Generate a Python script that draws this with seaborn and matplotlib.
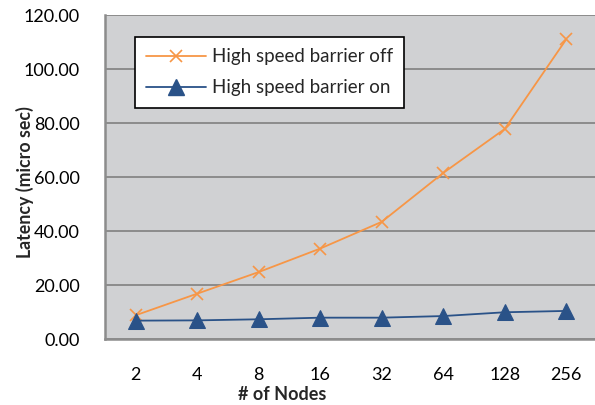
import matplotlib
matplotlib.use("Agg")
import matplotlib.pyplot as plt
import seaborn as sns
import pandas as pd
import numpy as np
from matplotlib.lines import Line2D

nodes = ["2", "4", "8", "16", "32", "64", "128", "256"]
barrier_off = [8.8, 16.8, 24.8, 33.5, 43.4, 61.5, 77.8, 111.0]
barrier_on = [6.8, 6.9, 7.3, 7.9, 7.9, 8.5, 9.9, 10.4]
series_names = ["High speed barrier off", "High speed barrier on"]

sns.set_theme(style="white")
plt.rcParams['font.family'] = ['Lato', 'DejaVu Sans']

df_off = pd.DataFrame({"nodes": nodes, "latency": barrier_off})
df_on = pd.DataFrame({"nodes": nodes, "latency": barrier_on})

c_off = "#f79646"
c_on = "#2a5288"

fig = plt.figure(figsize=(5.95, 4.05), dpi=100)
ax = fig.add_axes([105/595, 66/405, 492/595, 324/405])
ax.set_facecolor("#d0d1d3")

sns.lineplot(data=df_off, x="nodes", y="latency", color=c_off, marker="x",
             markersize=9, markeredgewidth=1.2, markeredgecolor=c_off,
             linewidth=1.3, sort=False, ax=ax)
sns.lineplot(data=df_on, x="nodes", y="latency", color=c_on, marker="^",
             markersize=11, markeredgecolor=c_on, linewidth=1.3, sort=False, ax=ax)

ax.set_xlim(-0.5, 7.5)
ax.set_ylim(0, 120)
yt = np.arange(0, 121, 20)
ax.set_yticks(yt)
ax.set_yticklabels([f"{v:.2f}" for v in yt])
ax.yaxis.grid(True, color="#8c8c8c", linewidth=1.4)
ax.xaxis.grid(False)
ax.set_axisbelow(True)

for s in ["top", "right"]:
    ax.spines[s].set_visible(False)
for s in ["left", "bottom"]:
    ax.spines[s].set_color("#8c8c8c")
    ax.spines[s].set_linewidth(1.8)

ax.tick_params(axis="y", length=0, pad=18, labelsize=13, colors="black")
ax.tick_params(axis="x", which="major", length=0, pad=20, labelsize=13, colors="black")
ax.set_xticks(np.arange(0.5, 7.5, 1), minor=True)
ax.tick_params(axis="x", which="minor", direction="in", length=5, width=1.2, color="#8c8c8c")

ax.set_xlabel("# of Nodes", fontsize=13, fontweight="bold")
ax.xaxis.label.set_va("center")
ax.xaxis.set_label_coords((282 - 105) / 492, (339 - 394) / 324)
ax.set_ylabel("Latency (micro sec)", fontsize=12.8, fontweight="bold")
ax.yaxis.label.set_va("center")
ax.yaxis.set_label_coords((25 - 105) / 492, (339 - 182) / 324)

handles = [
    Line2D([], [], color=c_off, marker="x", markersize=9, markeredgewidth=1.2, linewidth=1.3),
    Line2D([], [], color=c_on, marker="^", markersize=11, linewidth=1.3),
]
leg = ax.legend(handles, series_names, loc="upper left", bbox_to_anchor=(30/492, 1 - 22/324),
                borderaxespad=0, fontsize=13.5, frameon=True, fancybox=False, edgecolor="black",
                framealpha=1, handlelength=3.2, borderpad=0.6, labelspacing=0.75,
                handletextpad=0.3)
leg.get_frame().set_linewidth(1.2)

fig.savefig("out.png", dpi=100)
